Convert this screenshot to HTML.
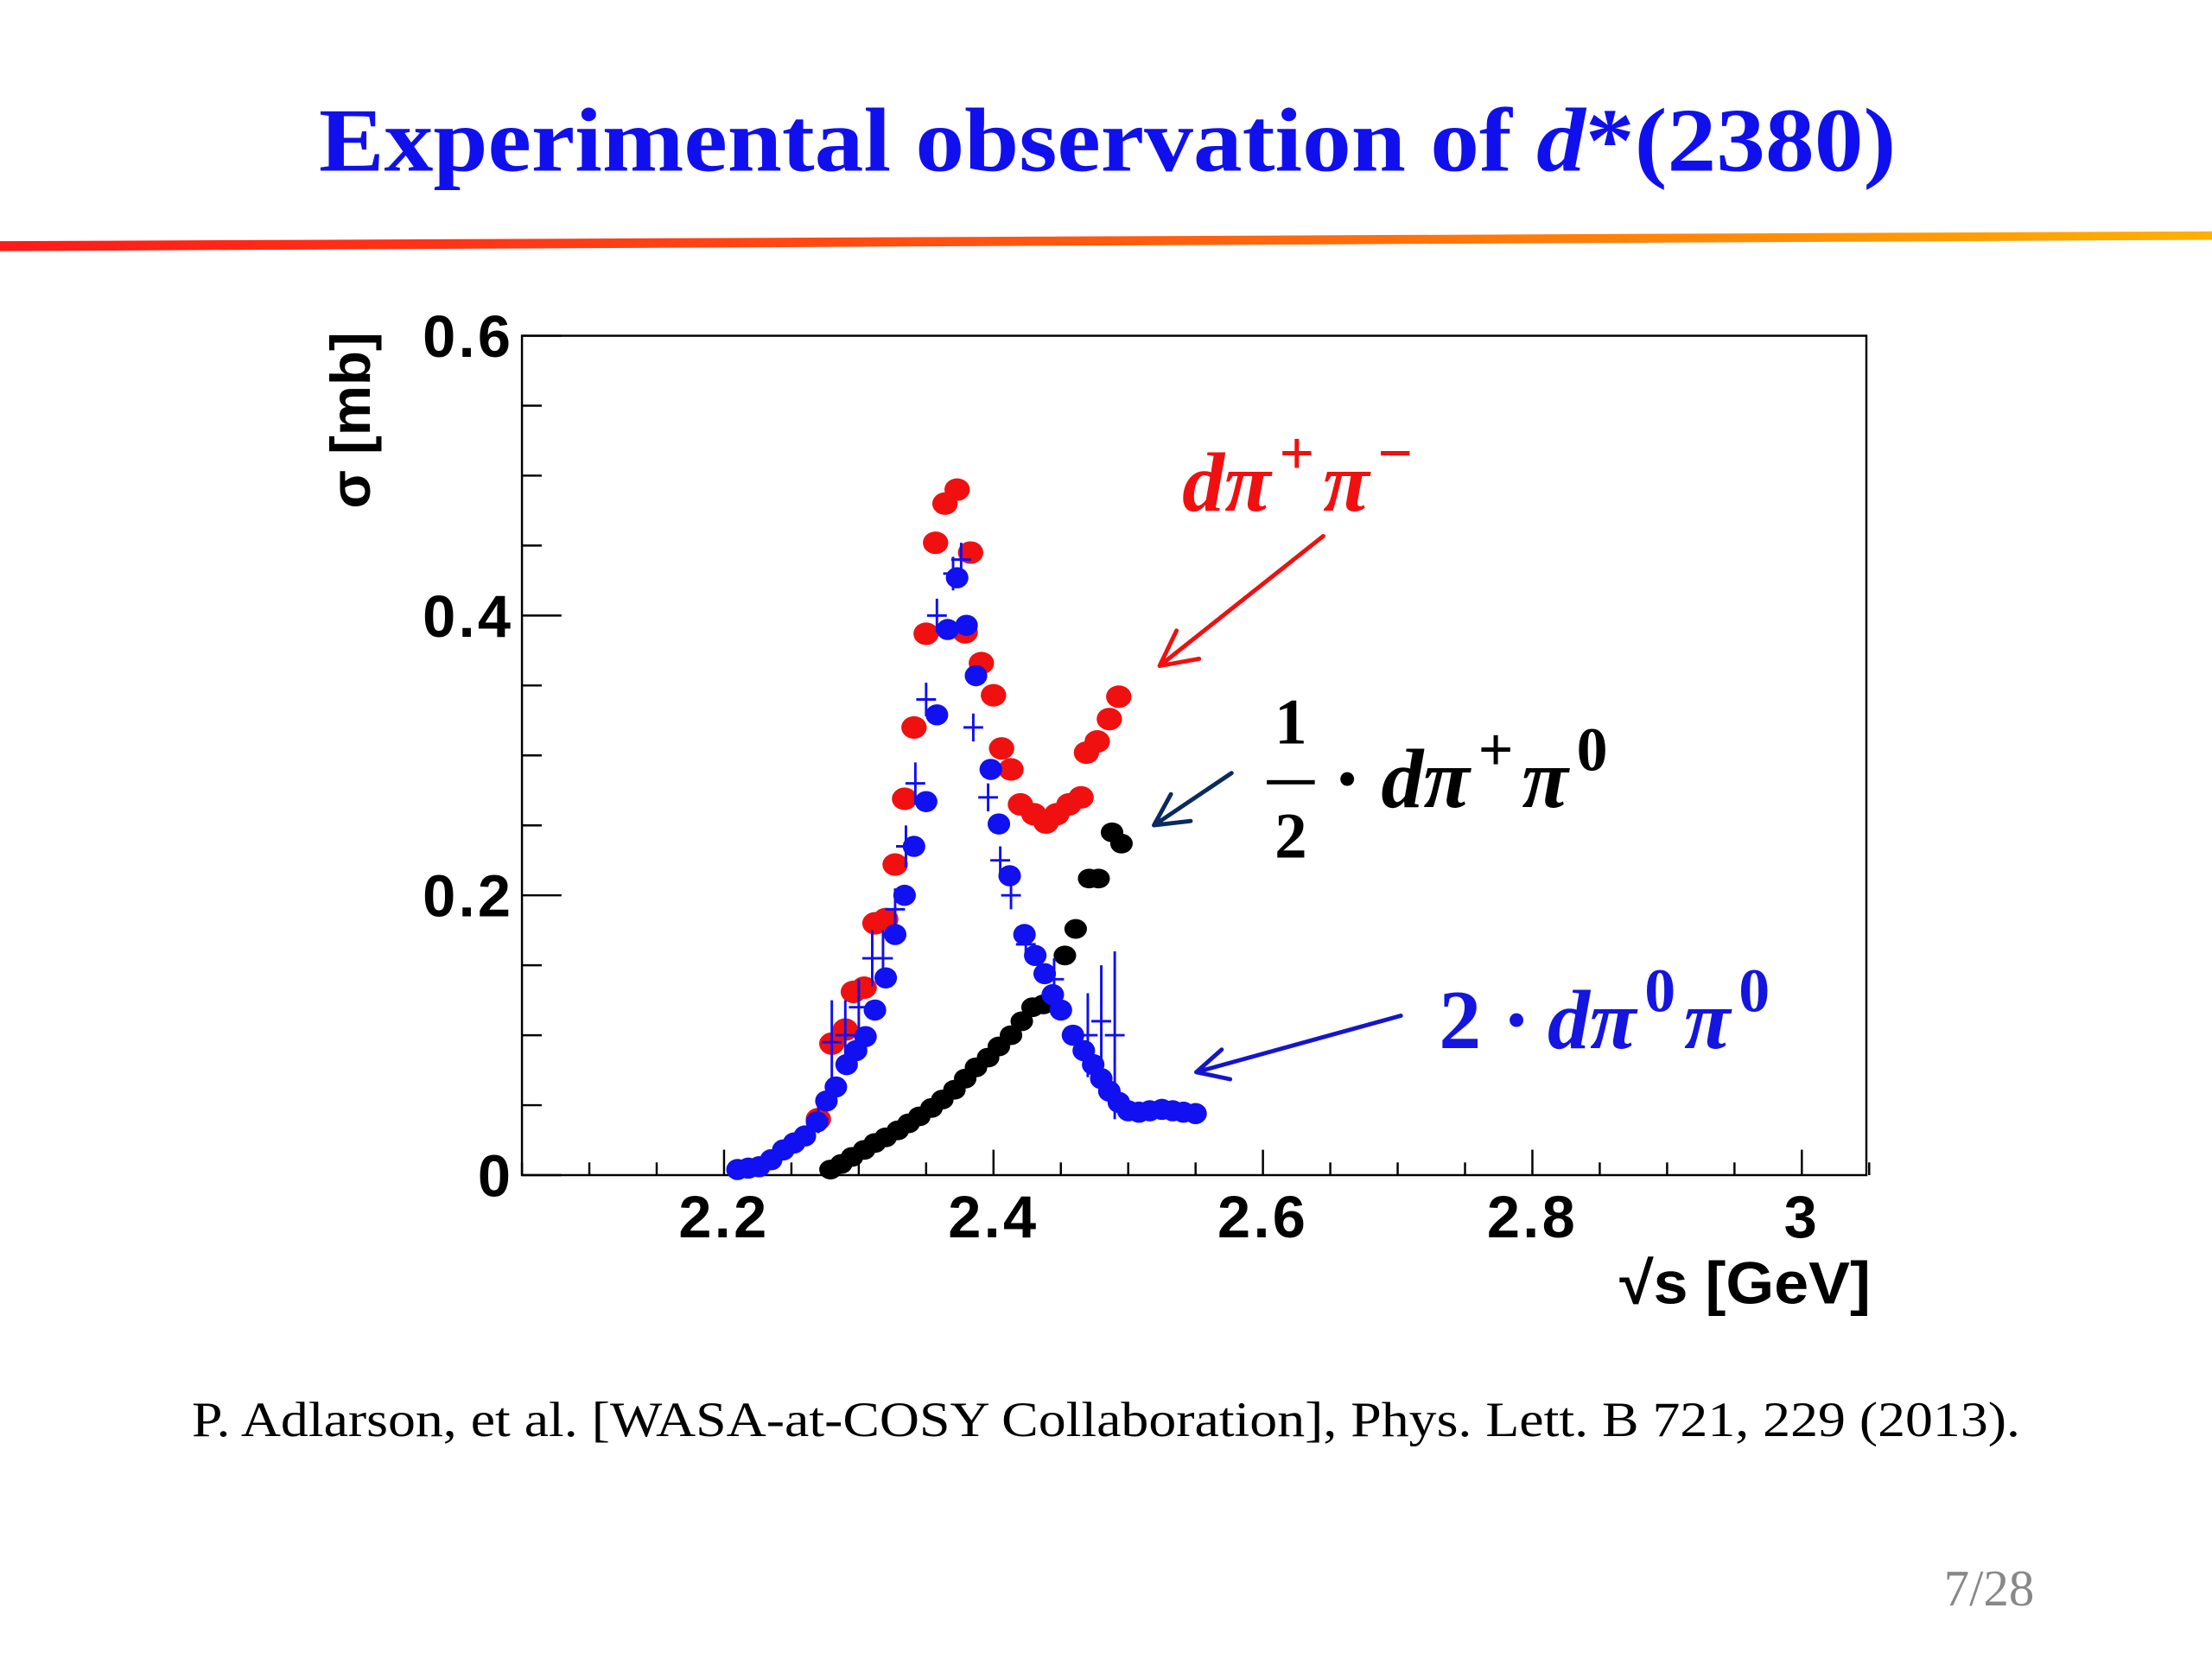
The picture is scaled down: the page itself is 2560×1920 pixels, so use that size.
<!DOCTYPE html>
<html><head><meta charset="utf-8"><style>
html,body{margin:0;padding:0;background:#fff;}
svg{display:block;}
</style></head><body>
<svg id="s" width="2560" height="1920" viewBox="0 0 1568 1176" xmlns="http://www.w3.org/2000/svg">
<defs>
<linearGradient id="g" x1="0" x2="1" y1="0" y2="0">
<stop offset="0" stop-color="#ff1a1a"/><stop offset="0.5" stop-color="#ff5a10"/><stop offset="1" stop-color="#ffb000"/>
</linearGradient>
</defs>
<text x="226" y="121" textLength="1118" lengthAdjust="spacingAndGlyphs" font-family="Liberation Serif, serif" font-weight="bold" font-size="64" fill="#1010ee">Experimental observation of <tspan font-style="italic">d</tspan>*(2380)</text>
<polygon points="0,171 1568,164 1568,170 0,178" fill="url(#g)"/>
<rect x="370" y="238" width="953" height="595" fill="none" stroke="#000" stroke-width="1.5"/>
<g id="axes"></g>
<g id="marks"></g>
<text transform="translate(262,298) rotate(-90)" text-anchor="middle" font-family="Liberation Sans, sans-serif" font-weight="bold" font-size="40" fill="#000">σ [mb]</text>
<text x="1148" y="924" textLength="178" lengthAdjust="spacingAndGlyphs" font-family="Liberation Sans, sans-serif" font-weight="bold" font-size="42" fill="#000">√s [GeV]</text>
<g font-family="Liberation Serif, serif" font-weight="bold" font-style="italic">
<text x="838" y="362" font-size="60" fill="#f01010">dπ<tspan font-size="44" dx="6" dy="-26" font-style="normal">+</tspan><tspan dx="6" dy="26">π</tspan><tspan font-size="44" dx="6" dy="-26" font-style="normal">−</tspan></text>
<text x="915" y="527" text-anchor="middle" font-size="46" font-style="normal" fill="#000">1</text>
<rect x="898" y="553" width="34" height="3" fill="#000"/>
<text x="915" y="608" text-anchor="middle" font-size="46" font-style="normal" fill="#000">2</text>
<text x="945" y="572" font-size="60" fill="#000"><tspan font-style="normal">·</tspan><tspan dx="14">dπ</tspan><tspan font-size="44" dx="6" dy="-26" font-style="normal">+</tspan><tspan dx="6" dy="26">π</tspan><tspan font-size="44" dx="6" dy="-26" font-style="normal">0</tspan></text>
<text x="1020" y="743" font-size="60" fill="#1515e0"><tspan font-style="normal">2 ·</tspan><tspan dx="12">dπ</tspan><tspan font-size="44" dx="6" dy="-26" font-style="normal">0</tspan><tspan dx="6" dy="26">π</tspan><tspan font-size="44" dx="6" dy="-26" font-style="normal">0</tspan></text>
</g>
<g stroke-width="3" fill="none" stroke-linecap="round">
<path d="M938,380 L822,472 M822,472 L850,467 M822,472 L834,447" stroke="#f01010"/>
<path d="M873,548 L818,585 M818,585 L844,582 M818,585 L830,563" stroke="#0a2a60"/>
<path d="M993,720 L848,760 M848,760 L872,765 M848,760 L866,744" stroke="#1515cc"/>
</g>
<text x="136" y="1018" textLength="1296" lengthAdjust="spacingAndGlyphs" font-family="Liberation Serif, serif" font-size="35" fill="#000">P. Adlarson, et al. [WASA-at-COSY Collaboration], Phys. Lett. B 721, 229 (2013).</text>
<text x="1442" y="1138" text-anchor="end" font-family="Liberation Serif, serif" font-size="36" fill="#888">7/28</text>
</svg>
<script>
const xTicks = [2.2, 2.4, 2.6, 2.8, 3];
const xTickLabels = ["2.2", "2.4", "2.6", "2.8", "3"];
const yTicks = [0, 0.2, 0.4, 0.6];
const yTickLabels = ["0", "0.2", "0.4", "0.6"];
const redX = [2.27,2.28,2.29,2.296,2.304,2.312,2.32,2.327,2.334,2.341,2.35,2.357,2.364,2.373,2.379,2.383,2.391,2.4,2.406,2.413,2.42,2.43,2.439,2.447,2.456,2.465,2.469,2.477,2.486,2.493];
const redY = [0.04,0.094,0.104,0.131,0.134,0.18,0.183,0.222,0.269,0.32,0.387,0.452,0.48,0.49,0.388,0.445,0.366,0.343,0.305,0.29,0.265,0.258,0.252,0.258,0.265,0.27,0.302,0.31,0.326,0.342];
const blueX = [2.21,2.218,2.226,2.235,2.244,2.252,2.26,2.269,2.276,2.283,2.291,2.298,2.305,2.312,2.32,2.327,2.334,2.341,2.35,2.358,2.366,2.373,2.38,2.387,2.398,2.404,2.412,2.423,2.431,2.438,2.444,2.45,2.459,2.467,2.474,2.48,2.486,2.493,2.5,2.508,2.516,2.525,2.533,2.541,2.55];
const blueY = [0.004,0.005,0.006,0.011,0.018,0.023,0.028,0.038,0.053,0.063,0.079,0.089,0.099,0.118,0.141,0.172,0.2,0.235,0.267,0.329,0.39,0.427,0.393,0.357,0.29,0.251,0.214,0.172,0.157,0.144,0.129,0.118,0.1,0.089,0.079,0.069,0.06,0.052,0.046,0.045,0.046,0.047,0.046,0.045,0.044];
const blackX = [2.279,2.287,2.295,2.304,2.312,2.32,2.329,2.337,2.345,2.354,2.362,2.371,2.379,2.387,2.396,2.404,2.413,2.421,2.429,2.437,2.453,2.461,2.471,2.478,2.488,2.495];
const blackY = [0.004,0.008,0.013,0.018,0.023,0.027,0.032,0.037,0.042,0.048,0.054,0.061,0.069,0.077,0.084,0.092,0.1,0.11,0.12,0.122,0.157,0.176,0.212,0.212,0.245,0.237];
const crossX = [2.27,2.28,2.29,2.3,2.31,2.318,2.327,2.335,2.342,2.35,2.358,2.37,2.376,2.385,2.396,2.405,2.413,2.424,2.445,2.47,2.48,2.49];
const crossY = [0.04,0.095,0.1,0.12,0.155,0.155,0.19,0.235,0.28,0.34,0.4,0.43,0.44,0.32,0.27,0.225,0.2,0.165,0.14,0.1,0.11,0.1];
const crossErr = [0.01,0.03,0.025,0.02,0.02,0.02,0.015,0.015,0.015,0.012,0.012,0.012,0.012,0.01,0.01,0.01,0.01,0.01,0.015,0.03,0.04,0.06];

const NS = "http://www.w3.org/2000/svg";
function X(v){ return 370 + (v - 2.05) * 955; }
function Y(v){ return 833 - v * 991.7; }
const axes = document.getElementById('axes');
const marks = document.getElementById('marks');
function mk(tag, attrs, parent){ const e = document.createElementNS(NS, tag); for (const k in attrs) e.setAttribute(k, attrs[k]); parent.appendChild(e); return e; }

for (let v = 2.05; v <= 3.051; v += 0.05) {
  const major = Math.abs(Math.round(v*10)/10 - v) < 1e-6 && Math.round(v*10) % 2 === 0;
  const t = mk('line', {x1:X(v), x2:X(v), y1:833, y2:833-(major?18:9), stroke:'#000', 'stroke-width':1.5}, axes);
  
  
}
for (let v = 0; v <= 0.6001; v += 0.05) {
  const major = Math.abs(Math.round(v*5)/5 - v) < 1e-6;
  const t = mk('line', {x1:370, x2:370+(major?28:14), y1:Y(v), y2:Y(v), stroke:'#000', 'stroke-width':1.5}, axes);
  
  
}
xTicks.forEach((v,i) => {
  const t = mk('text', {x:X(v), y:877, 'text-anchor':'middle', 'font-family':'Liberation Sans, sans-serif', 'font-weight':'bold', 'font-size':42, 'letter-spacing':2}, axes);
  t.textContent = xTickLabels[i];
  
  
});
yTicks.forEach((v,i) => {
  const t = mk('text', {x:364, y:Y(v)+15, 'text-anchor':'end', 'font-family':'Liberation Sans, sans-serif', 'font-weight':'bold', 'font-size':42, 'letter-spacing':2}, axes);
  t.textContent = yTickLabels[i];
  
  
});
blackX.forEach((v,i) => {
  const c = mk('ellipse', {cx:X(v), cy:Y(blackY[i]), rx:8, ry:7, fill:'#000'}, marks);
  
  
});
redX.forEach((v,i) => {
  const c = mk('ellipse', {cx:X(v), cy:Y(redY[i]), rx:9, ry:8, fill:'#f01010'}, marks);
  
  
});
blueX.forEach((v,i) => {
  const c = mk('ellipse', {cx:X(v), cy:Y(blueY[i]), rx:8, ry:7.5, fill:'#1010f0'}, marks);
  
  
});
crossX.forEach((v,i) => {
  const x = X(v), y = Y(crossY[i]), e = crossErr[i]*991.7;
  const p = mk('path', {d:`M${x-7},${y} H${x+7} M${x},${y-e} V${y+e}`, stroke:'#1010f0', 'stroke-width':1.8, fill:'none'}, marks);
  
  
});
</script>
</body></html>
